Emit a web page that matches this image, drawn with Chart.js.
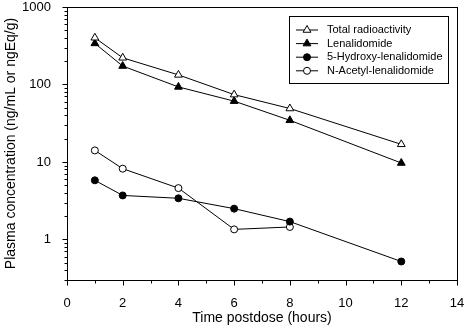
<!DOCTYPE html>
<html>
<head>
<meta charset="utf-8">
<script src="https://cdn.jsdelivr.net/npm/chart.js@4/dist/chart.umd.min.js"></script>
<style>
html, body { margin: 0; padding: 0; background: #fff; }
#wrap { width: 466px; height: 328px; }
</style>
</head>
<body>
<div id="wrap"><canvas id="graphic"></canvas></div>
<script>
// Datos
var times = [1, 2, 4, 6, 8, 12];
var totalRadioactivity = [401, 221, 133, 74, 49, 16.9];
var lenalidomide = [339, 173, 93, 61, 34.5, 9.7];
var hydroxyLenalidomide = [5.8, 3.7, 3.4, 2.5, 1.7, 0.52];
var acetylLenalidomide = [14.1, 8.2, 4.6, 1.35, 1.45];
var seriesNames = ['Total radioactivity', 'Lenalidomide', '5-Hydroxy-lenalidomide', 'N-Acetyl-lenalidomide'];
var yTickLabels = [1, 10, 100, 1000];
var yMinorTicks = [0.3, 0.4, 0.5, 0.6, 0.7, 0.8, 0.9, 2, 3, 4, 5, 6, 7, 8, 9,
  20, 30, 40, 50, 60, 70, 80, 90, 200, 300, 400, 500, 600, 700, 800, 900];
var xTickLabels = [0, 2, 4, 6, 8, 10, 12, 14];

function toPoints(values) {
  return values.map(function (v, i) { return { x: times[i], y: v }; });
}

function serie(label, values, style, fill) {
  return {
    label: label,
    data: toPoints(values),
    borderColor: '#000',
    borderWidth: 1,
    pointStyle: style,
    pointRadius: style === 'triangle' ? 4.5 : 3.5,
    pointBorderWidth: 1,
    pointBorderColor: '#000',
    pointBackgroundColor: fill,
    tension: 0
  };
}

Chart.defaults.font.family = "'Liberation Sans', Arial, sans-serif";
Chart.defaults.color = '#000';

// marcas de los ejes, recuadro y leyenda
var frame = {
  id: 'frame',
  afterDraw: function (chart) {
    var c = chart.ctx, a = chart.chartArea;
    var xs = chart.scales.x, ys = chart.scales.y;
    c.save();
    c.strokeStyle = '#000';
    c.lineWidth = 1;
    c.strokeRect(Math.round(a.left) + 0.5, Math.round(a.top) + 0.5,
      Math.round(a.right - a.left), Math.round(a.bottom - a.top));
    c.beginPath();
    var bx = Math.round(a.bottom) + 0.5;
    for (var t = 0; t <= 14; t++) {
      var px = Math.round(xs.getPixelForValue(t)) + 0.5;
      c.moveTo(px, bx);
      c.lineTo(px, bx + (t % 2 === 0 ? 5 : 3));
    }
    var lx = Math.round(a.left) + 0.5;
    yTickLabels.forEach(function (v) {
      var py = Math.round(ys.getPixelForValue(v)) + 0.5;
      c.moveTo(lx, py); c.lineTo(lx - 5, py);
    });
    yMinorTicks.forEach(function (v) {
      var py = Math.round(ys.getPixelForValue(v)) + 0.5;
      c.moveTo(lx, py); c.lineTo(lx - 3, py);
    });
    c.stroke();

    // leyenda
    var boxL = 289, boxT = 16, boxR = 448, boxB = 83;
    c.fillStyle = '#fff';
    c.fillRect(boxL, boxT, boxR - boxL, boxB - boxT);
    c.strokeRect(boxL + 0.5, boxT + 0.5, boxR - boxL, boxB - boxT);
    c.font = "11px 'Liberation Sans', Arial, sans-serif";
    c.textBaseline = 'middle';
    chart.data.datasets.forEach(function (ds, i) {
      var y = 30 + i * 13.6;
      c.beginPath();
      c.strokeStyle = '#000';
      c.moveTo(296, y); c.lineTo(318, y);
      c.stroke();
      c.fillStyle = ds.pointBackgroundColor;
      c.strokeStyle = '#000';
      c.lineWidth = 1;
      Chart.helpers.drawPoint(c, { pointStyle: ds.pointStyle, radius: ds.pointRadius, rotation: 0, borderWidth: 1 }, 307, y);
      c.fillStyle = '#000';
      c.fillText(ds.label, 327, y);
    });
    c.restore();
  }
};

var ctx = document.getElementById('graphic').getContext('2d');

var miGrafico = new Chart(ctx, {
  type: 'line',
  data: {
    datasets: [
      serie(seriesNames[0], totalRadioactivity, 'triangle', '#fff'),
      serie(seriesNames[1], lenalidomide, 'triangle', '#000'),
      serie(seriesNames[2], hydroxyLenalidomide, 'circle', '#000'),
      serie(seriesNames[3], acetylLenalidomide, 'circle', '#fff')
    ]
  },
  options: {
    responsive: true,
    maintainAspectRatio: false,
    animation: false,
    layout: { padding: { top: 7, right: 9, left: 0, bottom: 0 } },
    plugins: { legend: { display: false }, tooltip: { enabled: false } },
    scales: {
      x: {
        type: 'linear',
        min: 0,
        max: 14,
        afterBuildTicks: function (scale) {
          scale.ticks = xTickLabels.map(function (v) { return { value: v }; });
        },
        afterFit: function (scale) {
          scale.height = 48;
          scale.paddingLeft = 0;
          scale.paddingRight = 0;
        },
        grid: { display: false },
        border: { display: false },
        ticks: { padding: 8, font: { size: 13 }, maxRotation: 0, autoSkip: false },
        title: { display: true, text: 'Time postdose (hours)', font: { size: 14 }, padding: { top: 0, bottom: 1 } }
      },
      y: {
        type: 'logarithmic',
        min: 0.3,
        max: 1000,
        afterBuildTicks: function (scale) {
          scale.ticks = yTickLabels.map(function (v) { return { value: v }; });
        },
        afterFit: function (scale) {
          scale.width = 67;
          scale.paddingTop = 0;
          scale.paddingBottom = 0;
        },
        grid: { display: false },
        border: { display: false },
        ticks: {
          padding: 8,
          font: { size: 13 },
          autoSkip: false,
          callback: function (v) { return String(v); }
        },
        title: { display: true, text: 'Plasma concentration (ng/mL or ngEq/g)', font: { size: 14 }, padding: { top: 3, bottom: 0 } }
      }
    }
  },
  plugins: [frame]
});
</script>
</body>
</html>
